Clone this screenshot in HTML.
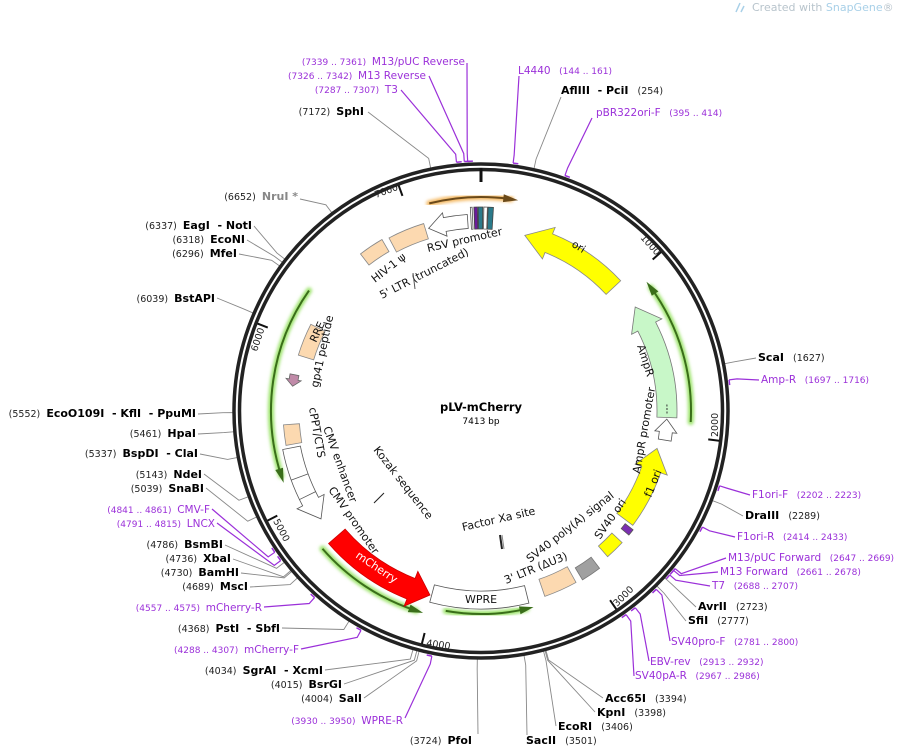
<!DOCTYPE html>
<html><head><meta charset="utf-8"><style>
html,body{margin:0;padding:0;background:#fff;}
svg{display:block;font-family:"DejaVu Sans","Liberation Sans",sans-serif;}
svg text{white-space:pre;}
.n{font-size:9.5px;fill:#222;}
.b{font-size:11px;font-weight:bold;fill:#000;}
.p{font-size:10.5px;fill:#9b30d9;}
.pn{font-size:9px;fill:#9b30d9;}
.f{font-size:11px;fill:#111;}
</style></head><body>
<svg id="s" width="903" height="748" viewBox="0 0 903 748" xmlns="http://www.w3.org/2000/svg" xml:space="preserve">
<defs>
<filter id="glow" x="-20%" y="-20%" width="140%" height="140%"><feGaussianBlur stdDeviation="1.5"/></filter>
</defs>
<g id="lines"></g>
<g id="feat"></g>
<circle cx="481" cy="411" r="247" fill="none" stroke="#222" stroke-width="3.5"/>
<circle cx="481" cy="411" r="241.5" fill="none" stroke="#222" stroke-width="3.5"/>
<g id="ticks"></g>

<text x="752" y="11" style="font-size:11px;fill:#b8c4cc">Created with <tspan fill="#a8d0e8">SnapGene</tspan>®</text>
<path d="M736 12 L740 3 M741 12 L744 6" stroke="#a8d0e8" stroke-width="1.5" fill="none"/>

<text x="481" y="411" text-anchor="middle" style="font-size:11.5px;font-weight:bold">pLV-mCherry</text>
<text x="481" y="424" text-anchor="middle" style="font-size:9px">7413 bp</text>

<text class="n" x="0" y="0" transform="translate(640,238) rotate(48)">1000</text>
<text class="n" x="0" y="0" transform="translate(718,437) rotate(-90)">2000</text>
<text class="n" x="0" y="0" transform="translate(617,607) rotate(-45)">3000</text>
<text class="n" x="0" y="0" transform="translate(426,646) rotate(8)">4000</text>
<text class="n" x="0" y="0" transform="translate(273,521) rotate(62)">5000</text>
<text class="n" x="0" y="0" transform="translate(257,352) rotate(-72)">6000</text>
<text class="n" x="0" y="0" transform="translate(376,198) rotate(-20)">7000</text>

<g text-anchor="end">
<text x="298" y="200"><tspan class="n">(6652)  </tspan><tspan class="b" fill="#888" style="fill:#888">NruI *</tspan></text>
<text x="364" y="115"><tspan class="n">(7172)  </tspan><tspan class="b">SphI</tspan></text>
<text x="398" y="93"><tspan class="pn">(7287 .. 7307)  </tspan><tspan class="p">T3</tspan></text>
<text x="426" y="79"><tspan class="pn">(7326 .. 7342)  </tspan><tspan class="p">M13 Reverse</tspan></text>
<text x="465" y="65"><tspan class="pn">(7339 .. 7361)  </tspan><tspan class="p">M13/pUC Reverse</tspan></text>
<text x="252" y="229"><tspan class="n">(6337)  </tspan><tspan class="b">EagI  - NotI</tspan></text>
<text x="245" y="243"><tspan class="n">(6318)  </tspan><tspan class="b">EcoNI</tspan></text>
<text x="237" y="257"><tspan class="n">(6296)  </tspan><tspan class="b">MfeI</tspan></text>
<text x="215" y="302"><tspan class="n">(6039)  </tspan><tspan class="b">BstAPI</tspan></text>
<text x="196" y="417"><tspan class="n">(5552)  </tspan><tspan class="b">EcoO109I  - KflI  - PpuMI</tspan></text>
<text x="196" y="437"><tspan class="n">(5461)  </tspan><tspan class="b">HpaI</tspan></text>
<text x="198" y="457"><tspan class="n">(5337)  </tspan><tspan class="b">BspDI  - ClaI</tspan></text>
<text x="202" y="478"><tspan class="n">(5143)  </tspan><tspan class="b">NdeI</tspan></text>
<text x="204" y="492"><tspan class="n">(5039)  </tspan><tspan class="b">SnaBI</tspan></text>
<text x="210" y="513"><tspan class="pn">(4841 .. 4861)  </tspan><tspan class="p">CMV-F</tspan></text>
<text x="215" y="527"><tspan class="pn">(4791 .. 4815)  </tspan><tspan class="p">LNCX</tspan></text>
<text x="223" y="548"><tspan class="n">(4786)  </tspan><tspan class="b">BsmBI</tspan></text>
<text x="231" y="562"><tspan class="n">(4736)  </tspan><tspan class="b">XbaI</tspan></text>
<text x="239" y="576"><tspan class="n">(4730)  </tspan><tspan class="b">BamHI</tspan></text>
<text x="248" y="590"><tspan class="n">(4689)  </tspan><tspan class="b">MscI</tspan></text>
<text x="262" y="611"><tspan class="pn">(4557 .. 4575)  </tspan><tspan class="p">mCherry-R</tspan></text>
<text x="280" y="632"><tspan class="n">(4368)  </tspan><tspan class="b">PstI  - SbfI</tspan></text>
<text x="299" y="653"><tspan class="pn">(4288 .. 4307)  </tspan><tspan class="p">mCherry-F</tspan></text>
<text x="323" y="674"><tspan class="n">(4034)  </tspan><tspan class="b">SgrAI  - XcmI</tspan></text>
<text x="342" y="688"><tspan class="n">(4015)  </tspan><tspan class="b">BsrGI</tspan></text>
<text x="362" y="702"><tspan class="n">(4004)  </tspan><tspan class="b">SalI</tspan></text>
<text x="403" y="724"><tspan class="pn">(3930 .. 3950)  </tspan><tspan class="p">WPRE-R</tspan></text>
<text x="472" y="744"><tspan class="n">(3724)  </tspan><tspan class="b">PfoI</tspan></text>
</g>

<text x="518" y="74"><tspan class="p">L4440</tspan><tspan class="pn">   (144 .. 161)</tspan></text>
<text x="561" y="94"><tspan class="b">AflIII  - PciI</tspan><tspan class="n">   (254)</tspan></text>
<text x="596" y="116"><tspan class="p">pBR322ori-F</tspan><tspan class="pn">   (395 .. 414)</tspan></text>
<text x="758" y="361"><tspan class="b">ScaI</tspan><tspan class="n">   (1627)</tspan></text>
<text x="761" y="383"><tspan class="p">Amp-R</tspan><tspan class="pn">   (1697 .. 1716)</tspan></text>
<text x="752" y="498"><tspan class="p">F1ori-F</tspan><tspan class="pn">   (2202 .. 2223)</tspan></text>
<text x="745" y="519"><tspan class="b">DraIII</tspan><tspan class="n">   (2289)</tspan></text>
<text x="737" y="540"><tspan class="p">F1ori-R</tspan><tspan class="pn">   (2414 .. 2433)</tspan></text>
<text x="728" y="561"><tspan class="p">M13/pUC Forward</tspan><tspan class="pn">   (2647 .. 2669)</tspan></text>
<text x="720" y="575"><tspan class="p">M13 Forward</tspan><tspan class="pn">   (2661 .. 2678)</tspan></text>
<text x="712" y="589"><tspan class="p">T7</tspan><tspan class="pn">   (2688 .. 2707)</tspan></text>
<text x="698" y="610"><tspan class="b">AvrII</tspan><tspan class="n">   (2723)</tspan></text>
<text x="688" y="624"><tspan class="b">SfiI</tspan><tspan class="n">   (2777)</tspan></text>
<text x="671" y="645"><tspan class="p">SV40pro-F</tspan><tspan class="pn">   (2781 .. 2800)</tspan></text>
<text x="650" y="665"><tspan class="p">EBV-rev</tspan><tspan class="pn">   (2913 .. 2932)</tspan></text>
<text x="635" y="679"><tspan class="p">SV40pA-R</tspan><tspan class="pn">   (2967 .. 2986)</tspan></text>
<text x="605" y="702"><tspan class="b">Acc65I</tspan><tspan class="n">   (3394)</tspan></text>
<text x="597" y="716"><tspan class="b">KpnI</tspan><tspan class="n">   (3398)</tspan></text>
<text x="558" y="730"><tspan class="b">EcoRI</tspan><tspan class="n">   (3406)</tspan></text>
<text x="526" y="744"><tspan class="b">SacII</tspan><tspan class="n">   (3501)</tspan></text>

<g class="f">
<text class="f" transform="translate(428,252) rotate(-13)">RSV promoter</text>
<text class="f" transform="translate(382,299) rotate(-27)">5' LTR (truncated)</text>
<text class="f" transform="translate(375,283) rotate(-38)">HIV-1 ψ</text>
<text class="f" transform="translate(571,246) rotate(32)" style="font-size:10.5px">ori</text>
<text class="f" transform="translate(637,346) rotate(72)">AmpR</text>
<text class="f" transform="translate(640,474) rotate(-80)">AmpR promoter</text>
<text class="f" transform="translate(651,498) rotate(-68)">f1 ori</text>
<text class="f" transform="translate(600,540) rotate(-55)">SV40 ori</text>
<text class="f" transform="translate(530,563) rotate(-38)">SV40 poly(A) signal</text>
<text class="f" transform="translate(506,584) rotate(-22)">3' LTR (ΔU3)</text>
<text class="f" x="465" y="603">WPRE</text>
<text class="f" transform="translate(463,531) rotate(-13)">Factor Xa site</text>
<text class="f" transform="translate(373,450) rotate(52)">Kozak sequence</text>
<text class="f" transform="translate(355,557) rotate(34)" style="fill:#fff">mCherry</text>
<text class="f" transform="translate(328,490) rotate(55)">CMV promoter</text>
<text class="f" transform="translate(323,428) rotate(70)">CMV enhancer</text>
<text class="f" transform="translate(309,408) rotate(80)">cPPT/CTS</text>
<text class="f" transform="translate(318,388) rotate(-78)">gp41 peptide</text>
<text class="f" transform="translate(316,343) rotate(-65)" style="font-size:10.5px">RRE</text>
</g>
<line x1="413" y1="273" x2="415" y2="289" stroke="#555"/>
<line x1="374" y1="503" x2="384" y2="493" stroke="#222"/>
<line x1="500" y1="535" x2="502" y2="549" stroke="#222" stroke-width="2"/>
<line x1="502" y1="535" x2="504" y2="549" stroke="#888" stroke-width="1"/>
</svg>
<script>
(function(){
var NS="http://www.w3.org/2000/svg",cx=481,cy=411,T=7413;
function P(r,a){a=a*Math.PI/180;return [cx+r*Math.sin(a),cy-r*Math.cos(a)];}
function A(bp){return bp/T*360;}
function el(g,tag,at){var e=document.createElementNS(NS,tag);for(var k in at)e.setAttribute(k,at[k]);document.getElementById(g).appendChild(e);return e;}
function arc(r,a1,a2){var p1=P(r,a1),p2=P(r,a2),sw=a2>a1?1:0,lg=Math.abs(a2-a1)>180?1:0;return "M"+p1+" A"+r+" "+r+" 0 "+lg+" "+sw+" "+p2;}
function feat(r,w,a1,a2,fill,stroke,head){
 var ri=r-w/2,ro=r+w/2,d;
 var dir=a2>a1?1:-1;
 if(head){var hl=head*dir;var ab=a2-hl;
  d="M"+P(ri,a1)+" A"+ri+" "+ri+" 0 0 "+(dir>0?1:0)+" "+P(ri,ab)+" L"+P(ri-w*0.35,ab)+" L"+P(r,a2)+" L"+P(ro+w*0.35,ab)+" L"+P(ro,ab)+" A"+ro+" "+ro+" 0 0 "+(dir>0?0:1)+" "+P(ro,a1)+" Z";
 } else {
  d="M"+P(ri,a1)+" A"+ri+" "+ri+" 0 0 "+(dir>0?1:0)+" "+P(ri,a2)+" L"+P(ro,a2)+" A"+ro+" "+ro+" 0 0 "+(dir>0?0:1)+" "+P(ro,a1)+" Z";
 }
 el("feat","path",{d:d,fill:fill,stroke:stroke,"stroke-width":0.8});
}
function garc(r,a1,a2,col,halo){
 el("feat","path",{d:arc(r,a1,a2-(a2>a1?2:-2)),fill:"none",stroke:halo,"stroke-width":6,filter:"url(#glow)","stroke-linecap":"round"});
 el("feat","path",{d:arc(r,a1,a2-(a2>a1?2:-2)),fill:"none",stroke:col,"stroke-width":2});
 var dir=a2>a1?1:-1,ab=a2-4*dir;
 el("feat","path",{d:"M"+P(r-4,ab)+" L"+P(r,a2)+" L"+P(r+4,ab)+" Z",fill:col});
}
garc(214,-14,10,"#6b4a1a","#f4b860");
garc(210,305,250,"#3a6e1a","#9be36a");
garc(210,93,52,"#3a6e1a","#9be36a");
garc(210,229,196,"#3a6e1a","#9be36a");
garc(203,190,165,"#3a6e1a","#9be36a");
feat(181,20,47,14,"#ffff00","#888",8);
feat(186,20,92,56,"#c8f7c8","#777",7);
el("feat","path",{d:arc(186,88,91),fill:"none",stroke:"#333","stroke-dasharray":"2,1.5","stroke-width":1});
feat(186,13,99,92.5,"#fff","#555",4);
feat(180,20,127,102,"#ffff00","#888",7);
feat(186,14,133,139,"#ffff00","#888",0);
feat(190,14,143,149,"#a0a0a0","#777",0);
feat(187,18,151,161,"#fcd9b0","#888",0);
feat(189,18,166,195,"#fff","#555",0);
feat(191,22,229,195.5,"#ff0000","#c00",6);
feat(193,18,259,236,"#fff","#555",6);
el("feat","path",{d:"M"+P(184,250)+" L"+P(202,250)+" M"+P(184,244)+" L"+P(202,244),stroke:"#555","stroke-width":0.8});
feat(190,16,266,260,"#fcd9b0","#888",0);
feat(190,9,281,277.5,"#c08aa8","#666",2);
feat(183,16,297,287,"#fcd9b0","#888",0);
feat(191,14,322.5,330,"#fcd9b0","#888",0);
feat(188,16,332,343,"#fcd9b0","#888",0);
feat(190,14,356,344,"#fff","#555",5);
feat(193,22,357,357.5,"#fff","#555",0);
feat(193,22,358,359,"#6a1b9a","#444",0);
feat(193,22,359.2,360.5,"#2a7a8a","#444",0);
feat(193,22,360.8,361.8,"#fff","#555",0);
feat(193,22,362,363.5,"#2a7a8a","#444",0);
feat(188,10,128,130,"#7b2fb0","#555",0);
[1000,2000,3000,4000,5000,6000,7000].forEach(function(b){var a=A(b);el("ticks","path",{d:"M"+P(229,a)+" L"+P(240,a),stroke:"#111","stroke-width":2});});
el("ticks","path",{d:"M"+P(229,0)+" L"+P(243,0),stroke:"#111","stroke-width":3});
var L=[[300,199,6652,0],[368,112,7172,0],[401,90,7297,1],[429,76,7334,1],[467,63,7350,1],
[519,76,152,1],[561,97,254,0],[592,118,404,1],[756,358,1627,0],[759,380,1706,1],
[750,495,2212,1],[743,516,2289,0],[735,537,2423,1],[726,558,2658,1],[718,572,2669,1],[710,586,2697,1],
[696,607,2723,0],[686,621,2777,0],[670,641,2790,1],[649,661,2922,1],[634,676,2976,1],
[603,698,3394,0],[595,712,3398,0],[556,726,3406,0],[527,735,3501,0],[478,734,3724,0],
[405,718,3940,1],[364,698,4004,0],[344,684,4015,0],[325,670,4034,0],[301,649,4297,1],
[282,628,4368,0],[264,607,4566,1],[250,587,4689,0],[241,573,4730,0],[233,559,4736,0],
[225,545,4786,0],[217,523,4803,1],[212,509,4851,1],[206,488,5039,0],[204,474,5143,0],
[200,454,5337,0],[198,434,5461,0],[198,414,5552,0],[217,298,6039,0],[239,254,6296,0],
[247,240,6318,0],[254,226,6337,0]];
L.forEach(function(l){var a=A(l[2]);var k=P(258,a),e=P(l[3]?250:247,a);
 var c=l[3]?"#9b30d9":"#888";
 el("lines","path",{d:"M"+l[0]+","+l[1]+" L"+k+" L"+e,fill:"none",stroke:c,"stroke-width":l[3]?1.2:0.9});
 if(l[3]){var h=P(250,a+1.2);el("lines","path",{d:"M"+e+" L"+h,stroke:c,"stroke-width":1.5});}
});
})();
</script>
</body></html>
